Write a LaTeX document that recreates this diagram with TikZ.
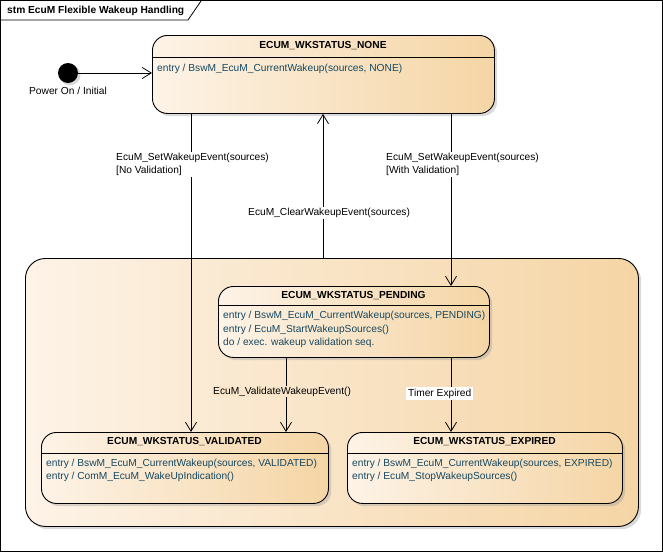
\documentclass[tikz,border=0pt]{standalone}
\usepackage{fontspec}
\setmainfont{Liberation Sans}
\usetikzlibrary{arrows.meta}
\definecolor{lightc}{RGB}{253,243,231}
\definecolor{darkc}{RGB}{245,213,165}
\definecolor{midc}{RGB}{250,231,203}
\definecolor{entryc}{RGB}{22,72,96}
\definecolor{shadowc}{RGB}{150,150,150}
\tikzset{
  statebox/.style={draw=black, line width=0.9pt, rounded corners=15pt, left color=lightc, right color=darkc, rectangle, inner sep=0pt, anchor=north west},
  shadowbox/.style={fill=shadowc, opacity=0.35, rounded corners=15pt, draw=none, rectangle, inner sep=0pt, anchor=north west},
  stitle/.style={font=\fontsize{10.2}{12}\selectfont\bfseries, inner sep=0pt},
  sentry/.style={font=\fontsize{10.2}{13.5}\selectfont, text=entryc, align=left, anchor=north west, inner sep=0pt},
  tlabel/.style={font=\fontsize{10.2}{13}\selectfont, align=left, anchor=north west, inner sep=1pt, fill=white},
  arr/.style={draw=black, line width=0.8pt, -{Straight Barb[length=9pt,width=11pt,line width=0.8pt]}},
}
\begin{document}
\begin{tikzpicture}[x=1pt,y=-1pt]
\useasboundingbox (0,0) rectangle (663,552);
% frame
\draw[line width=0.8pt] (0.5,0.5) rectangle (662.5,551.5);
\node[font=\fontsize{10.2}{12}\selectfont\bfseries, anchor=west, inner sep=0pt] (frametitle) at (7,10.5) {stm EcuM Flexible Wakeup Handling};
\draw[line width=0.8pt] (0.5,20) -- (188,20) -- (201,1);

% composite state
\node[shadowbox, rounded corners=20pt, minimum width=613pt, minimum height=268pt] (compsh) at (28,261) {};
\node[statebox, rounded corners=20pt, minimum width=613pt, minimum height=268pt] (comp) at (25,258) {};

% NONE
\node[shadowbox, minimum width=342pt, minimum height=78pt] (nonesh) at (155,38) {};
\node[statebox, minimum width=342pt, minimum height=78pt] (none) at (152,35) {};
\draw[line width=0.8pt] (none.west |- 0,57) -- (none.east |- 0,57);
\node[stitle] (nonet) at (323,45.5) {ECUM\_WKSTATUS\_NONE};
\node[sentry] (nonee) at (157,63.5) {entry / BswM\_EcuM\_CurrentWakeup(sources, NONE)};

% PENDING
\node[shadowbox, minimum width=271pt, minimum height=71pt] (pendsh) at (221,289) {};
\node[statebox, minimum width=271pt, minimum height=71pt] (pend) at (218,286) {};
\draw[line width=0.8pt] (pend.west |- 0,305) -- (pend.east |- 0,305);
\node[stitle] (pendt) at (353.5,295.5) {ECUM\_WKSTATUS\_PENDING};
\node[sentry] (pende) at (223,311) {entry / BswM\_EcuM\_CurrentWakeup(sources, PENDING)\\entry / EcuM\_StartWakeupSources()\\do / exec. wakeup validation seq.};

% VALIDATED
\node[shadowbox, minimum width=287pt, minimum height=71pt] (valsh) at (44,435) {};
\node[statebox, minimum width=287pt, minimum height=71pt] (val) at (41,432) {};
\draw[line width=0.8pt] (val.west |- 0,453) -- (val.east |- 0,453);
\node[stitle] (valt) at (184.5,442) {ECUM\_WKSTATUS\_VALIDATED};
\node[sentry] (vale) at (46,458.5) {entry / BswM\_EcuM\_CurrentWakeup(sources, VALIDATED)\\entry / ComM\_EcuM\_WakeUpIndication()};

% EXPIRED
\node[shadowbox, minimum width=275pt, minimum height=71pt] (expsh) at (350,435) {};
\node[statebox, minimum width=275pt, minimum height=71pt] (exp) at (347,432) {};
\draw[line width=0.8pt] (exp.west |- 0,453) -- (exp.east |- 0,453);
\node[stitle] (expt) at (484.5,442) {ECUM\_WKSTATUS\_EXPIRED};
\node[sentry] (expe) at (352,458.5) {entry / BswM\_EcuM\_CurrentWakeup(sources, EXPIRED)\\entry / EcuM\_StopWakeupSources()};

% initial
\fill[shadowc, opacity=0.35] (70,75) circle (10.5);
\node[circle, fill=black, minimum size=20pt, inner sep=0pt] (init) at (68,73) {};
\node[font=\fontsize{10.2}{12}\selectfont, inner sep=0pt] (initl) at (68,90.5) {Power On / Initial};
\draw[arr] (init.east) -- (none.west |- init.east);

% transitions
\draw[arr] (none.south -| 191,0) -- (val.north -| 191,0);
\draw[arr] (none.south -| 451,0) -- (pend.north -| 451,0);
\draw[arr] (comp.north -| 323,0) -- (none.south -| 323,0);
\draw[arr] (pend.south -| 286,0) -- (val.north -| 286,0);
\draw[arr] (pend.south -| 451,0) -- (exp.north -| 451,0);

% labels
\node[tlabel] (l1) at (115,152) {EcuM\_SetWakeupEvent(sources)\\{}[No Validation]};
\node[tlabel] (l2) at (385,152) {EcuM\_SetWakeupEvent(sources)\\{}[With Validation]};
\node[tlabel] (l3) at (247,207) {EcuM\_ClearWakeupEvent(sources)};
\node[tlabel, fill=midc] (l4) at (212,385.5) {EcuM\_ValidateWakeupEvent()};
\node[tlabel, inner sep=2pt] (l5) at (406,386.5) {Timer Expired};
\end{tikzpicture}
\end{document}
